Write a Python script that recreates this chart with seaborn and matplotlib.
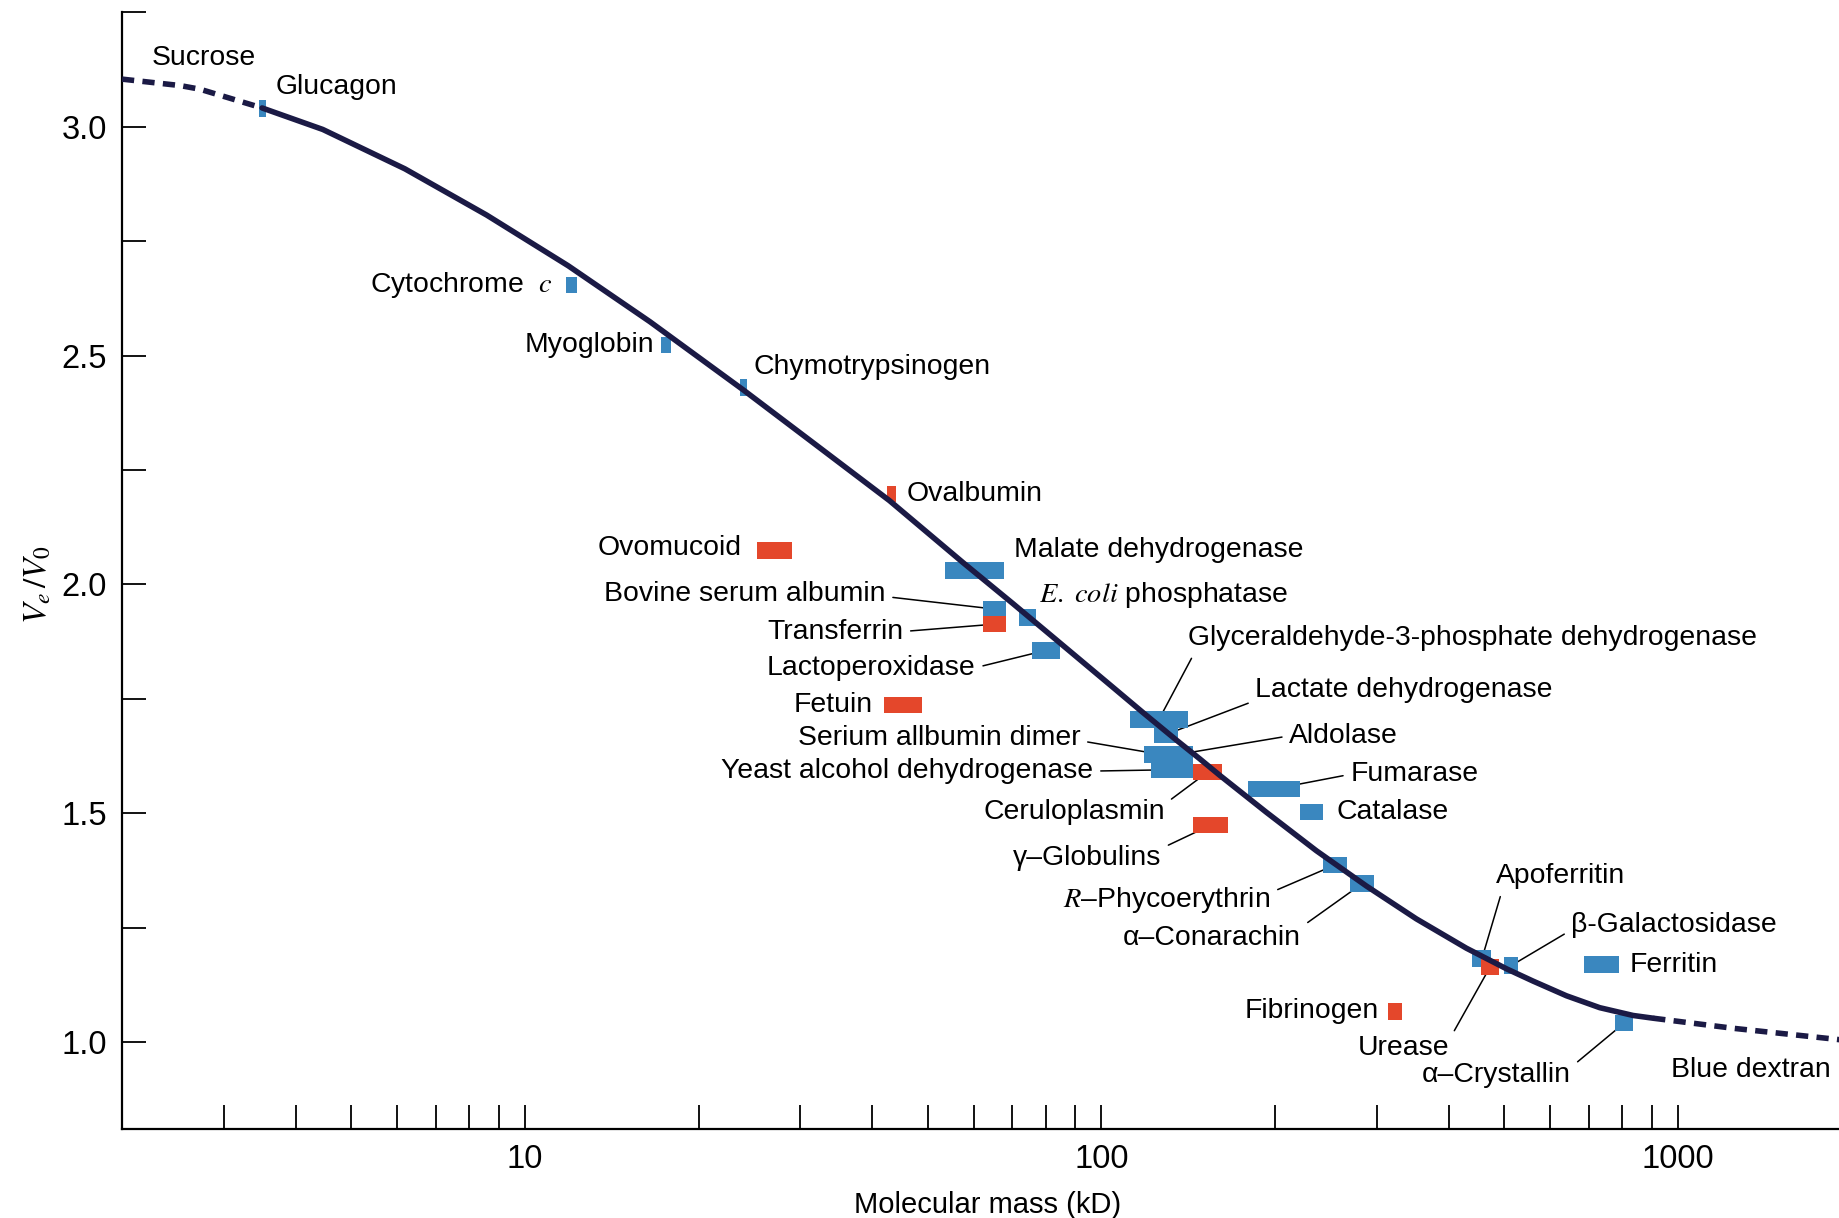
import numpy as np
import matplotlib
matplotlib.use("Agg")
import matplotlib.pyplot as plt
import seaborn as sns
from matplotlib.ticker import LogLocator, NullFormatter

# gel filtration standards: mass range (kD) and elution ratio Ve/V0
proteins = ["Glucagon", "Cytochrome c", "Myoglobin", "Chymotrypsinogen", "Ovalbumin",
            "Ovomucoid", "Malate dehydrogenase", "Bovine serum albumin", "Transferrin",
            "E. coli phosphatase", "Lactoperoxidase", "Fetuin",
            "Glyceraldehyde-3-phosphate dehydrogenase", "Lactate dehydrogenase",
            "Serium allbumin dimer", "Aldolase", "Yeast alcohol dehydrogenase",
            "Ceruloplasmin", "gamma-Globulins", "Fumarase", "Catalase", "R-Phycoerythrin",
            "alpha-Conarachin", "Fibrinogen", "Apoferritin", "Urease", "beta-Galactosidase",
            "Ferritin", "alpha-Crystallin"]
mass_lo = [3.45, 11.8, 17.2, 23.6, 42.4, 25.3, 53.6, 62.2, 62.2, 72.0, 75.8, 42.0,
           111.9, 123.5, 118.4, 127.0, 121.7, 144.2, 144.2, 179.8, 220.9, 242.7,
           270.3, 314.0, 440.1, 454.8, 499.5, 687.2, 776.3]
mass_hi = [3.55, 12.3, 17.9, 24.3, 44.0, 29.1, 67.8, 68.4, 68.4, 76.9, 84.9, 48.8,
           141.5, 135.7, 136.3, 144.2, 144.2, 162.1, 166.0, 220.9, 242.7, 266.5,
           296.9, 332.2, 474.5, 490.2, 528.5, 791.1, 836.8]
ve_v0 = [3.04, 2.654, 2.523, 2.43, 2.197, 2.074, 2.03, 1.946, 1.913, 1.928, 1.856, 1.736,
         1.705, 1.672, 1.628, 1.628, 1.595, 1.590, 1.474, 1.553, 1.503, 1.387,
         1.346, 1.067, 1.182, 1.164, 1.167, 1.169, 1.041]
kind = ["protein", "protein", "protein", "protein", "glyco", "glyco", "protein", "protein",
        "glyco", "protein", "protein", "glyco", "protein", "protein", "protein", "protein",
        "protein", "glyco", "glyco", "protein", "protein", "protein", "protein", "glyco",
        "protein", "glyco", "protein", "protein", "protein"]

# calibration curve
curve_x = [3.5, 4.46, 6.19, 8.58, 11.89, 16.47, 23.97, 31.57, 42.88, 57.47, 70.21, 83.45,
           104.7, 118.0, 134.8, 148.0, 160.3, 193.2, 235.9, 288.0, 351.8, 429.5, 504.1,
           560.8, 640.6, 731.7, 835.9, 905.7]
curve_y = [3.041, 2.994, 2.908, 2.807, 2.696, 2.574, 2.424, 2.310, 2.183, 2.048, 1.958, 1.879,
           1.775, 1.720, 1.660, 1.619, 1.583, 1.502, 1.418, 1.341, 1.269, 1.205, 1.160,
           1.133, 1.101, 1.075, 1.058, 1.052]
low_x = [2.0, 2.52, 2.73, 3.5]
low_y = [3.104, 3.090, 3.082, 3.041]
high_x = [905.7, 1246.6, 1910.0]
high_y = [1.052, 1.030, 1.005]

sns.set_theme(style="ticks")
plt.rcParams["font.family"] = ["Liberation Sans", "DejaVu Sans"]
plt.rcParams["mathtext.fontset"] = "stix"

BLUE = "#3a87bf"
RED = "#e4472b"
NAVY = "#1b1a45"

fig = plt.figure(figsize=(18.4, 12.18), dpi=100)
ax = fig.add_axes([0.0663, 0.0731, 0.9337, 0.9168])
ax.set_xscale("log")

# boxes
colors = [RED if k == "glyco" else BLUE for k in kind]
widths = np.array(mass_hi) - np.array(mass_lo)
ax.barh(ve_v0, widths, left=mass_lo, height=0.036, color=colors, linewidth=0, zorder=2)

# curve
sns.lineplot(x=curve_x, y=curve_y, ax=ax, color=NAVY, lw=4.0, sort=False,
             estimator=None, zorder=3)
for xs, ys in [(low_x, low_y), (high_x, high_y)]:
    sns.lineplot(x=xs, y=ys, ax=ax, color=NAVY, lw=4.0, sort=False, estimator=None,
                 linestyle=(0, (2.2, 1.5)), zorder=3)

# labels: text, x, y, ha, leader target, leader start (relpos)
labels = [
    ("Sucrose", 2.25, 3.150, "left", None, None),
    ("Glucagon", 3.70, 3.087, "left", None, None),
    ("Cytochrome  $c$", 11.19, 2.654, "right", None, None),
    ("Myoglobin", 16.75, 2.523, "right", None, None),
    ("Chymotrypsinogen", 24.95, 2.474, "left", None, None),
    ("Ovalbumin", 45.9, 2.197, "left", None, None),
    ("Ovomucoid", 23.8, 2.079, "right", None, None),
    ("Malate dehydrogenase", 70.4, 2.074, "left", None, None),
    ("Bovine serum albumin", 42.2, 1.979, "right", "Bovine serum albumin", (1, 0.4)),
    (r"$E.\ coli$ phosphatase", 78.0, 1.977, "left", None, None),
    ("Transferrin", 45.3, 1.897, "right", "Transferrin", (1, 0.5)),
    ("Lactoperoxidase", 60.5, 1.818, "right", "Lactoperoxidase", (1, 0.5)),
    ("Glyceraldehyde-3-phosphate dehydrogenase", 141.5, 1.882, "left",
     "Glyceraldehyde-3-phosphate dehydrogenase", (0.012, 0)),
    ("Fetuin", 40.1, 1.736, "right", None, None),
    ("Lactate dehydrogenase", 184.9, 1.769, "left", "Lactate dehydrogenase", (0, 0.1)),
    ("Serium allbumin dimer", 91.9, 1.664, "right", "Serium allbumin dimer", (1, 0.4)),
    ("Aldolase", 211.8, 1.669, "left", "Aldolase", (0, 0.5)),
    ("Yeast alcohol dehydrogenase", 96.8, 1.592, "right", "Yeast alcohol dehydrogenase", (1, 0.5)),
    ("Ceruloplasmin", 128.8, 1.503, "right", "Ceruloplasmin", (1, 0.8)),
    ("Fumarase", 270.3, 1.585, "left", "Fumarase", (0, 0.5)),
    ("Catalase", 255.5, 1.503, "left", None, None),
    ("γ–Globulins", 127.0, 1.403, "right", "gamma-Globulins", (1, 0.85)),
    ("$R$–Phycoerythrin", 196.5, 1.310, "right", "R-Phycoerythrin", (1, 0.75)),
    ("α–Conarachin", 221.9, 1.228, "right", "alpha-Conarachin", (1, 0.9)),
    ("Apoferritin", 483.4, 1.362, "left", "Apoferritin", (0.05, 0)),
    ("β-Galactosidase", 652.6, 1.256, "left", "beta-Galactosidase", (0, 0.3)),
    ("Ferritin", 825.0, 1.169, "left", None, None),
    ("Fibrinogen", 302.5, 1.067, "right", None, None),
    ("Urease", 400.7, 0.987, "right", "Urease", (1, 0.8)),
    ("α–Crystallin", 652.6, 0.928, "right", "alpha-Crystallin", (1, 0.8)),
    ("Blue dextran", 972.0, 0.938, "left", None, None),
]
for text, tx, ty, ha, target, rel in labels:
    if target is None:
        ax.text(tx, ty, text, ha=ha, va="center", fontsize=20.4, color="black", zorder=4)
    else:
        i = proteins.index(target)
        cx = np.sqrt(mass_lo[i] * mass_hi[i])
        ax.annotate(text, xy=(cx, ve_v0[i]), xytext=(tx, ty), ha=ha, va="center",
                    fontsize=20.4, color="black", zorder=1.5,
                    arrowprops=dict(arrowstyle="-", color="black", lw=1.1,
                                    relpos=rel, shrinkA=3, shrinkB=0))

# axes styling
ax.set_xlim(2, 1910)
ax.set_ylim(0.81, 3.25)
ax.set_xticks([10, 100, 1000], labels=["10", "100", "1000"])
ax.xaxis.set_minor_locator(LogLocator(base=10, subs=np.arange(2, 10), numticks=20))
ax.xaxis.set_minor_formatter(NullFormatter())
ax.set_yticks([1.0, 1.5, 2.0, 2.5, 3.0], labels=["1.0", "1.5", "2.0", "2.5", "3.0"])
ax.set_yticks([1.25, 1.75, 2.25, 2.75, 3.25], minor=True)
ax.tick_params(axis="both", which="both", direction="in", length=17, width=1.3,
               color="black", labelsize=23.5, labelcolor="black", pad=11,
               bottom=True, left=True, top=False, right=False)
for side in ["top", "right"]:
    ax.spines[side].set_visible(False)
for side in ["left", "bottom"]:
    ax.spines[side].set_color("black")
    ax.spines[side].set_linewidth(1.6)

ax.set_xlabel("Molecular mass (kD)", fontsize=21, color="black")
ax.set_ylabel(r"$V_e\,/V_0$", fontsize=24, color="black")
ax.xaxis.set_label_coords(0.504, -0.056)
ax.yaxis.set_label_coords(-0.040, 0.488)

fig.savefig("out.png", dpi=100)
